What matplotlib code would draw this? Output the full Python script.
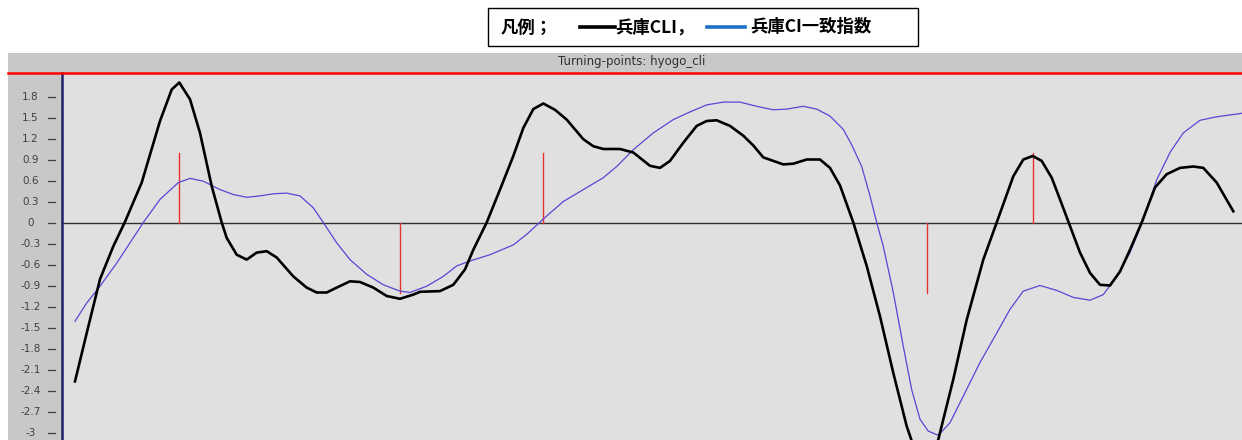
import matplotlib
matplotlib.use("Agg")
import matplotlib.pyplot as plt
from matplotlib.patches import Rectangle
from matplotlib.lines import Line2D
from matplotlib.transforms import blended_transform_factory

plt.rcParams['font.family'] = ['DejaVu Sans']

# ---- data (time position along the axis, value) ----
cli_t = [75, 86.7, 100, 113.3, 125, 141.7, 160, 171.7, 179.3, 190, 200, 211.7, 221.7,
         226.7, 236.7, 246.7, 256.7, 266.7, 276.7, 293.3, 306.7, 316.7, 326.7, 336.7,
         350, 360, 373.3, 386.7, 400, 413.3, 420, 440, 453.3, 465, 473.3, 486.7, 500,
         513.3, 523.3, 533.3, 543.3, 555, 566.7, 583.3, 593.3, 603.3, 620, 633.3, 650,
         660, 670, 683.3, 696.7, 706.7, 716.7, 730, 743.3, 753.3, 763.3, 773.3, 783.3,
         793.3, 806.7, 820, 830, 840, 853.3, 866.7, 880, 893.3, 906.7, 916, 925, 933,
         938.3, 953.3, 966.7, 983.3, 996.7, 1013.3, 1023.3, 1032.7, 1041.7, 1051.7,
         1060, 1070, 1080, 1090, 1100, 1110, 1120, 1130, 1141.7, 1155, 1166.7, 1180,
         1193.3, 1203.3, 1216.7, 1233.3]
cli_v = [-2.27, -1.58, -0.81, -0.34, 0.01, 0.57, 1.45, 1.90, 2.0, 1.76, 1.28, 0.52, 0.0,
         -0.22, -0.46, -0.53, -0.43, -0.41, -0.50, -0.77, -0.93, -1.0, -1.0, -0.93,
         -0.84, -0.85, -0.93, -1.05, -1.09, -1.03, -0.99, -0.98, -0.89, -0.67, -0.39, 0.0, 0.47,
         0.95, 1.35, 1.62, 1.70, 1.61, 1.47, 1.19, 1.09, 1.05, 1.05, 1.0, 0.81,
         0.78, 0.88, 1.14, 1.38, 1.45, 1.46, 1.38, 1.24, 1.10, 0.93, 0.88, 0.83,
         0.84, 0.90, 0.90, 0.78, 0.53, 0.0, -0.62, -1.34, -2.15, -2.91, -3.3, -3.45, -3.3,
         -3.1, -2.24, -1.39, -0.53, 0.0, 0.66, 0.90, 0.95, 0.88, 0.64,
         0.33, -0.05, -0.43, -0.72, -0.89, -0.90, -0.70, -0.39, 0.0, 0.50, 0.69, 0.78,
         0.80, 0.78, 0.57, 0.16]

ci_t = [75, 86.7, 100, 116.7, 130, 143.3, 160, 178.3, 190, 203.3, 220, 233.3, 246.7, 260,
        273.3, 286.7, 300, 313.3, 323.3, 336.7, 350, 366.7, 383.3, 400, 410, 426.7, 443.3,
        456.7, 470, 490, 513.3, 526.7, 543.3, 563.3, 583.3, 603.3, 616.7, 633.3, 653.3,
        673.3, 690, 706.7, 723.3, 740, 756.7, 773.3, 786.7, 803.3, 816.7, 830, 843.3,
        851.7, 861.7, 870, 876.7, 883.3, 893.3, 903.3, 911.7, 920, 928.3, 938.3, 950,
        963.3, 980, 996.7, 1010, 1023.3, 1040, 1056.7, 1073.3, 1090, 1103.3, 1116.7,
        1130, 1143.3, 1156.7, 1170, 1183.3, 1200, 1216.7, 1242]
ci_v = [-1.41, -1.15, -0.91, -0.58, -0.29, 0.0, 0.33, 0.57, 0.63, 0.59, 0.47, 0.40, 0.36, 0.38,
        0.41, 0.42, 0.38, 0.21, 0.0, -0.29, -0.53, -0.74, -0.89, -0.98, -1.0, -0.91, -0.77,
        -0.62, -0.55, -0.46, -0.32, -0.17, 0.05, 0.30, 0.47, 0.64, 0.80, 1.04, 1.28,
        1.47, 1.58, 1.68, 1.72, 1.72, 1.66, 1.61, 1.62, 1.66, 1.62, 1.52, 1.33,
        1.11, 0.80, 0.38, 0.0, -0.34, -1.0, -1.77, -2.39, -2.81, -2.98, -3.04, -2.86,
        -2.48, -2.0, -1.58, -1.24, -0.98, -0.90, -0.97, -1.07, -1.11, -1.03, -0.77,
        -0.43, 0.04, 0.61, 1.0, 1.28, 1.46, 1.51, 1.56]

# turning points: position, +1 peak / -1 trough
tp_t = [179.3, 400, 543.3, 926.7, 1032.7]
tp_v = [1.0, -1.0, 1.0, -1.0, 1.0]

yticks = [1.8, 1.5, 1.2, 0.9, 0.6, 0.3, 0, -0.3, -0.6, -0.9, -1.2, -1.5, -1.8,
          -2.1, -2.4, -2.7, -3]
ytick_labels = ['1.8', '1.5', '1.2', '0.9', '0.6', '0.3', '0', '-0.3', '-0.6', '-0.9',
                '-1.2', '-1.5', '-1.8', '-2.1', '-2.4', '-2.7', '-3']

title = 'Turning-points: hyogo_cli'
leg_head = '凡例；'
leg_cli = '兵庫CLI，'
leg_ci = '兵庫CI一致指数'

# ---- figure ----
W, H = 1242, 440
fig = plt.figure(figsize=(W / 100, H / 100), dpi=100)
fig.patch.set_facecolor('white')

def fx(px):
    return px / W

def fy(py):
    return 1 - py / H

# gray panel (title bar + left margin), drawn beneath the axes
fig.patches.append(Rectangle((fx(8), 0), fx(W) - fx(8), fy(53), transform=fig.transFigure,
                             facecolor='#c8c8c8', edgecolor='none', zorder=-5))

ax = fig.add_axes([fx(62), 0, fx(W) - fx(62), fy(73)])
ax.set_zorder(1)
ax.set_facecolor('#e0e0e0')
ax.set_xlim(62, 1242)
ax.set_ylim(-(440 - 222.5) / 70, (222.5 - 73) / 70)
for s in ['top', 'right', 'bottom']:
    ax.spines[s].set_visible(False)
ax.spines['left'].set_color('#20206a')
ax.spines['left'].set_linewidth(1.8)
ax.set_xticks([])
ax.set_yticks([])

ax.axhline(0, color='#303030', linewidth=1.0, zorder=1)
for t, v in zip(tp_t, tp_v):
    ax.plot([t, t], [0, v], color='#e83030', linewidth=1.0, zorder=2)
ax.plot(ci_t, ci_v, color='#5548d4', linewidth=0.9, zorder=3)
ax.plot(cli_t, cli_v, color='black', linewidth=1.9, zorder=4)

# tick marks and labels detached from the axis line
tr = blended_transform_factory(fig.transFigure, ax.transData)
for v, lab in zip(yticks, ytick_labels):
    fig.lines.append(Line2D([fx(48), fx(55)], [v, v], transform=tr, color='#404040',
                            linewidth=0.9, zorder=2))
    fig.text(fx(30.5), v, lab, transform=tr, ha='center', va='center', fontsize=7.5,
             color='#404040', zorder=2)

# red top line of the plot area
fig.lines.append(Line2D([fx(8), fx(W)], [fy(73), fy(73)], transform=fig.transFigure,
                        color='#ff0000', linewidth=1.8, zorder=3))

# title
fig.text(fx(632), fy(62), title, ha='center', va='center', fontsize=8.5, color='#303030',
         zorder=2)

# legend box
fig.patches.append(Rectangle((fx(488), fy(46)), fx(918) - fx(488), fy(8) - fy(46),
                             transform=fig.transFigure, facecolor='white',
                             edgecolor='black', linewidth=1.0, zorder=2))
cjk = ['Noto Sans CJK JP', 'DejaVu Sans']
fig.text(fx(501), fy(27.5), leg_head, ha='left', va='center', fontsize=12.5,
         fontweight='bold', family=cjk, zorder=3)
fig.lines.append(Line2D([fx(580), fx(615)], [fy(27.5), fy(27.5)], transform=fig.transFigure,
                        color='black', linewidth=2.6, zorder=3))
fig.text(fx(615), fy(27.5), leg_cli, ha='left', va='center', fontsize=12.5,
         fontweight='bold', family=cjk, zorder=3)
fig.lines.append(Line2D([fx(707), fx(745)], [fy(27.5), fy(27.5)], transform=fig.transFigure,
                        color='#1f6fc8', linewidth=2.6, zorder=3))
fig.text(fx(750), fy(27.5), leg_ci, ha='left', va='center', fontsize=12.5,
         fontweight='bold', family=cjk, zorder=3)

fig.savefig('out.png', dpi=100)
